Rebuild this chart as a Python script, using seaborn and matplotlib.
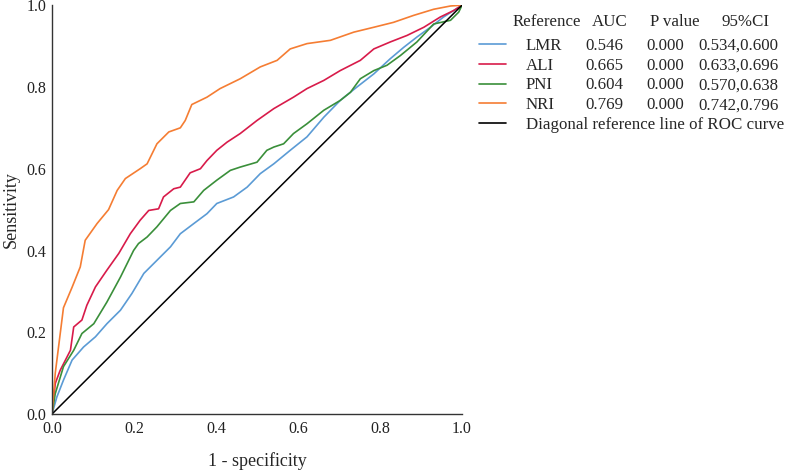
import pandas as pd
import matplotlib.pyplot as plt
import seaborn as sns
from matplotlib.lines import Line2D

# ROC points (1 - specificity, sensitivity)
lmr_x = [0.0, 0.012, 0.028, 0.049, 0.077, 0.106, 0.134, 0.167, 0.195, 0.224, 0.256, 0.289, 0.313, 0.346,
         0.378, 0.402, 0.443, 0.476, 0.508, 0.541, 0.581, 0.622, 0.663, 0.703, 0.744, 0.785, 0.825, 0.858,
         0.89, 0.923, 0.955, 1.0]
lmr_y = [0.0, 0.042, 0.083, 0.132, 0.164, 0.189, 0.221, 0.254, 0.295, 0.344, 0.376, 0.409, 0.441, 0.466,
         0.49, 0.515, 0.531, 0.555, 0.588, 0.612, 0.645, 0.678, 0.726, 0.767, 0.80, 0.832, 0.869, 0.897,
         0.922, 0.946, 0.971, 1.0]

ali_x = [0.0, 0.008, 0.02, 0.045, 0.053, 0.073, 0.085, 0.106, 0.134, 0.163, 0.191, 0.215, 0.236, 0.26,
         0.272, 0.297, 0.313, 0.337, 0.362, 0.378, 0.402, 0.427, 0.459, 0.50, 0.541, 0.589, 0.622, 0.663,
         0.703, 0.752, 0.785, 0.825, 0.866, 0.907, 0.947, 0.98, 1.0]
ali_y = [0.0, 0.075, 0.107, 0.156, 0.213, 0.23, 0.266, 0.311, 0.352, 0.393, 0.441, 0.474, 0.498, 0.502,
         0.531, 0.551, 0.555, 0.59, 0.60, 0.62, 0.645, 0.665, 0.686, 0.718, 0.747, 0.775, 0.796, 0.816,
         0.84, 0.865, 0.893, 0.91, 0.926, 0.946, 0.971, 0.987, 1.0]

pni_x = [0.0, 0.008, 0.028, 0.053, 0.073, 0.102, 0.134, 0.167, 0.199, 0.211, 0.232, 0.256, 0.289, 0.313,
         0.346, 0.37, 0.402, 0.435, 0.459, 0.50, 0.524, 0.541, 0.565, 0.589, 0.622, 0.663, 0.703, 0.728,
         0.752, 0.785, 0.817, 0.85, 0.89, 0.931, 0.972, 0.992, 1.0]
pni_y = [0.0, 0.05, 0.116, 0.156, 0.197, 0.221, 0.274, 0.335, 0.40, 0.417, 0.433, 0.458, 0.498, 0.515,
         0.519, 0.547, 0.572, 0.596, 0.604, 0.616, 0.645, 0.653, 0.661, 0.686, 0.71, 0.743, 0.767, 0.787,
         0.82, 0.84, 0.853, 0.877, 0.91, 0.954, 0.963, 0.983, 1.0]

nri_x = [0.0, 0.008, 0.028, 0.049, 0.069, 0.081, 0.11, 0.138, 0.159, 0.179, 0.215, 0.232, 0.256, 0.285,
         0.313, 0.325, 0.341, 0.378, 0.41, 0.459, 0.508, 0.549, 0.581, 0.622, 0.679, 0.736, 0.785, 0.833,
         0.882, 0.931, 0.972, 1.0]
nri_y = [0.0, 0.10, 0.26, 0.31, 0.36, 0.425, 0.466, 0.50, 0.547, 0.576, 0.60, 0.612, 0.661, 0.69,
         0.70, 0.718, 0.757, 0.775, 0.796, 0.82, 0.849, 0.865, 0.893, 0.906, 0.914, 0.934, 0.946, 0.958,
         0.975, 0.99, 0.998, 1.0]

markers = ["LMR", "ALI", "PNI", "NRI"]
auc = ["0.546", "0.665", "0.604", "0.769"]
p_values = ["0.000", "0.000", "0.000", "0.000"]
ci = ["0.534,0.600", "0.633,0.696", "0.570,0.638", "0.742,0.796"]
colors = ["#5b9bd5", "#d81b4a", "#3a8f3a", "#f57d33"]

frames = []
for name, xs, ys in zip(markers, [lmr_x, ali_x, pni_x, nri_x], [lmr_y, ali_y, pni_y, nri_y]):
    frames.append(pd.DataFrame({"fpr": xs, "tpr": ys, "Marker": name}))
df = pd.concat(frames, ignore_index=True)

sns.set_style("white")
plt.rcParams["font.family"] = ["Liberation Serif", "DejaVu Serif"]

fig = plt.figure(figsize=(7.9, 4.7), dpi=100)
ax = fig.add_axes([0.0658, 0.119, 0.519, 0.870])

sns.lineplot(data=df, x="fpr", y="tpr", hue="Marker", palette=dict(zip(markers, colors)),
             sort=False, estimator=None, linewidth=1.2, legend=False, ax=ax)
ax.plot([0, 1], [0, 1], color="black", linewidth=1.1)

ax.set_xlim(0, 1)
ax.set_ylim(0, 1)
ax.set_xticks([0, 0.2, 0.4, 0.6, 0.8, 1.0])
ax.set_yticks([0, 0.2, 0.4, 0.6, 0.8, 1.0])
ax.set_xticklabels(["0.0", "0.2", "0.4", "0.6", "0.8", "1.0"])
ax.set_yticklabels(["0.0", "0.2", "0.4", "0.6", "0.8", "1.0"])
ax.tick_params(axis="both", length=0, labelsize=11.5, colors="#222222")
ax.tick_params(axis="x", pad=5)
ax.tick_params(axis="y", pad=4)
ax.set_xlabel("1 - specificity", fontsize=13, labelpad=11)
ax.set_ylabel("Sensitivity", fontsize=13, labelpad=5)
sns.despine(ax=ax)
for s in ["left", "bottom"]:
    ax.spines[s].set_color("#333333")
    ax.spines[s].set_linewidth(1.0)

# legend: handles + names, then the numeric columns aligned to each row
fs = 12.2
handles = [Line2D([], [], color=c, linewidth=1.2) for c in colors]
handles.append(Line2D([], [], color="black", linewidth=1.2))
labels = markers + ["Diagonal reference line of ROC curve"]
leg = fig.legend(handles, labels, loc="upper left", bbox_to_anchor=(479 / 790, 1 - 38 / 470),
                 frameon=False, fontsize=fs, handlelength=1.6, handletextpad=1.15,
                 labelspacing=0.22, borderaxespad=0, borderpad=0)

fig.canvas.draw()
tr = fig.transFigure.inverted()
for i, t in enumerate(leg.get_texts()[:4]):
    bb = t.get_window_extent()
    yc = tr.transform((0, (bb.y0 + bb.y1) / 2))[1]
    fig.text(585 / 790, yc, auc[i], fontsize=fs, va="center")
    fig.text(646 / 790, yc, p_values[i], fontsize=fs, va="center")
    fig.text(698 / 790, yc, ci[i], fontsize=fs, va="center")

hy = 1 - 22 / 470
fig.text(513 / 790, hy, "Reference", fontsize=fs, va="center")
fig.text(592 / 790, hy, "AUC", fontsize=fs, va="center")
fig.text(650 / 790, hy, "P value", fontsize=fs, va="center")
fig.text(722 / 790, hy, "95%CI", fontsize=fs, va="center")

fig.savefig("out.png", dpi=100)
